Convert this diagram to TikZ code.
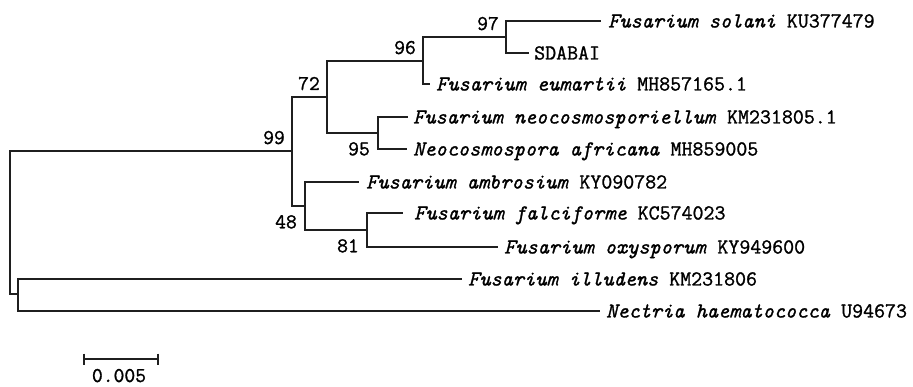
\documentclass[tikz,border=0pt]{standalone}
\usepackage{fontspec}
\newfontfamily\treefont{Latin Modern Mono}[FakeBold=1.2, ItalicFeatures={FakeBold=1.2}]
\begin{document}
\begin{tikzpicture}[x=1pt,y=-1pt,
  br/.style={draw=black!88, line width=1.4pt, line cap=rect},
  leaf/.style={anchor=base west, inner sep=0pt, yshift=-6.5pt, font=\fontsize{21.3}{24}\selectfont\treefont},
  boot/.style={inner sep=0pt, font=\fontsize{21}{24}\selectfont\treefont},
  up/.style={boot, anchor=base east, xshift=-7pt, yshift=7pt},
  dn/.style={boot, anchor=north east, xshift=-8pt, yshift=-9pt}]
\useasboundingbox (0,0) rectangle (913,387);
% internal nodes
\coordinate (rt) at (10,294);
\coordinate (n99) at (292,151);
\coordinate (n72) at (327,97);
\coordinate (n96) at (423,61);
\coordinate (n97) at (506,37);
\coordinate (n95) at (378,133);
\coordinate (n48) at (305,206);
\coordinate (n81) at (367,230);
\coordinate (out) at (18,294);
% tips
\coordinate (tSol) at (600,21);
\coordinate (tSda) at (528,53);
\coordinate (tEum) at (429,84);
\coordinate (tNeo) at (407,117);
\coordinate (tAfr) at (406,149);
\coordinate (tAmb) at (358,182);
\coordinate (tFal) at (402,213);
\coordinate (tOxy) at (497,247);
\coordinate (tIll) at (461,279);
\coordinate (tNec) at (599,311);
% branches
\draw[br] (rt) |- (n99);
\draw[br] (rt) -- (out);
\draw[br] (n99) |- (n72);
\draw[br] (n99) |- (n48);
\draw[br] (n72) |- (n96);
\draw[br] (n72) |- (n95);
\draw[br] (n96) |- (n97);
\draw[br] (n96) |- (tEum);
\draw[br] (n97) |- (tSol);
\draw[br] (n97) |- (tSda);
\draw[br] (n95) |- (tNeo);
\draw[br] (n95) |- (tAfr);
\draw[br] (n48) |- (tAmb);
\draw[br] (n48) |- (n81);
\draw[br] (n81) |- (tFal);
\draw[br] (n81) |- (tOxy);
\draw[br] (out) |- (tIll);
\draw[br] (out) |- (tNec);
% leaf labels
\node[leaf] (lSol) at ([xshift=8pt]tSol) {\textit{Fusarium solani} KU377479};
\node[leaf] (lSda) at ([xshift=6pt]tSda) {SDABAI};
\node[leaf] (lEum) at ([xshift=7pt]tEum) {\textit{Fusarium eumartii} MH857165.1};
\node[leaf] (lNeo) at ([xshift=6pt]tNeo) {\textit{Fusarium neocosmosporiellum} KM231805.1};
\node[leaf] (lAfr) at ([xshift=7pt]tAfr) {\textit{Neocosmospora africana} MH859005};
\node[leaf] (lAmb) at ([xshift=8pt]tAmb) {\textit{Fusarium ambrosium} KY090782};
\node[leaf] (lFal) at ([xshift=12pt]tFal) {\textit{Fusarium falciforme} KC574023};
\node[leaf] (lOxy) at ([xshift=7pt]tOxy) {\textit{Fusarium oxysporum} KY949600};
\node[leaf] (lIll) at ([xshift=7pt]tIll) {\textit{Fusarium illudens} KM231806};
\node[leaf] (lNec) at ([xshift=7pt]tNec) {\textit{Nectria haematococca} U94673};
% bootstrap values
\node[up] (b99) at (n99) {99};
\node[up] (b72) at (n72) {72};
\node[up] (b96) at (n96) {96};
\node[up] (b97) at (n97) {97};
\node[dn] (b95) at (n95) {95};
\node[dn] (b48) at (n48) {48};
\node[dn] (b81) at (n81) {81};
% scale bar
\coordinate (s1) at (84,359);
\coordinate (s2) at (158,359);
\draw[br, line cap=butt] (s1) -- (s2);
\draw[br, line cap=butt] ([yshift=5.5pt]s1) -- ([yshift=-5.5pt]s1);
\draw[br, line cap=butt] ([yshift=5.5pt]s2) -- ([yshift=-5.5pt]s2);
\node[boot, anchor=base] (sl) at (119,382) {0.005};
\end{tikzpicture}
\end{document}
